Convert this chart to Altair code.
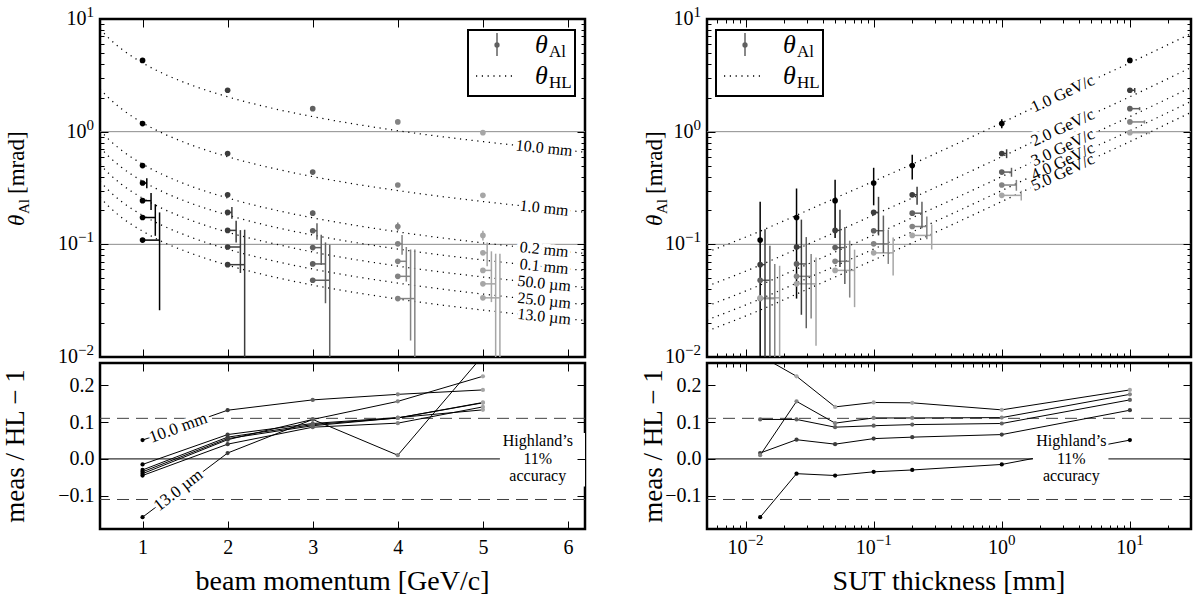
import altair as alt
import pandas as pd

FONT = "Liberation Serif, DejaVu Serif"

# ---------------------------------------------------------------- data
momenta = [1, 2, 3, 4, 5]  # GeV/c
momentum_labels = ["1.0 GeV/c", "2.0 GeV/c", "3.0 GeV/c", "4.0 GeV/c", "5.0 GeV/c"]
momentum_colors = ["#000000", "#3c3c3c", "#606060", "#838383", "#a6a6a6"]

thickness = [10.0, 1.0, 0.2, 0.1, 0.05, 0.025, 0.013]  # mm
thickness_labels = ["10.0 mm", "1.0 mm", "0.2 mm", "0.1 mm", "50.0 µm", "25.0 µm", "13.0 µm"]

# measured scattering angle [mrad]; rows: thickness, columns: momentum
theta_al = [
    [4.29, 2.33, 1.60, 1.22, 0.98],
    [1.18, 0.64, 0.438, 0.336, 0.272],
    [0.50, 0.275, 0.189, 0.144, 0.120],
    [0.35, 0.192, 0.132, 0.101, 0.084],
    [0.244, 0.133, 0.0935, 0.0707, 0.0587],
    [0.173, 0.0947, 0.067, 0.052, 0.0446],
    [0.109, 0.066, 0.048, 0.0330, 0.0335],
]
# uncertainties shown in the momentum scan
err_by_momentum = [
    [0, 0, 0, 0, 0],
    [0, 0, 0, 0, 0],
    [0.010, 0.012, 0.010, 0.012, 0.012],
    [0.035, 0.023, 0.022, 0.020, 0.020],
    [0.042, 0.029, 0.028, 0.024, 0.028],
    [0.054, 0.039, 0.037, 0.038, 0.038],
    [0.083, 0.069, 0.051, 0.057, 0.049],
]
# uncertainties shown in the thickness scan
err_by_thickness = [
    [0.10, 0.11, 0.05, 0.04, 0.03],
    [0.11, 0.058, 0.040, 0.037, 0.027],
    [0.124, 0.050, 0.050, 0.033, 0.030],
    [0.128, 0.072, 0.048, 0.034, 0.031],
    [0.130, 0.070, 0.049, 0.037, 0.031],
    [0.140, 0.071, 0.049, 0.030, 0.032],
    [0.130, 0.070, 0.049, 0.034, 0.031],
]
# meas / HL - 1
ratio_hl = [
    [0.051, 0.132, 0.160, 0.175, 0.187],
    [-0.015, 0.066, 0.096, 0.112, 0.133],
    [-0.030, 0.059, 0.093, 0.111, 0.152],
    [-0.035, 0.055, 0.090, 0.111, 0.153],
    [-0.045, 0.040, 0.086, 0.097, 0.141],
    [-0.040, 0.052, 0.107, 0.156, 0.224],
    [-0.158, 0.016, 0.107, 0.010, 0.280],
]

# Highland prediction vs momentum, one row per thickness
hl_p_grid = [0.5, 0.6, 0.75, 1.0, 1.25, 1.5, 2.0, 2.5, 3.0, 4.0, 5.0, 6.2]
hl_vs_momentum = [
    [8.16, 6.80, 5.44, 4.08, 3.26, 2.72, 2.04, 1.63, 1.36, 1.02, 0.816, 0.658],
    [2.40, 2.00, 1.60, 1.198, 0.958, 0.799, 0.599, 0.479, 0.399, 0.300, 0.240, 0.193],
    [1.03, 0.858, 0.687, 0.515, 0.412, 0.343, 0.258, 0.206, 0.172, 0.129, 0.103, 0.0831],
    [0.726, 0.605, 0.484, 0.363, 0.290, 0.242, 0.182, 0.145, 0.121, 0.0908, 0.0726, 0.0585],
    [0.513, 0.428, 0.342, 0.257, 0.205, 0.171, 0.128, 0.103, 0.0855, 0.0641, 0.0513, 0.0414],
    [0.362, 0.302, 0.241, 0.181, 0.145, 0.121, 0.0905, 0.0724, 0.0603, 0.0453, 0.0362, 0.0292],
    [0.261, 0.218, 0.174, 0.131, 0.104, 0.0871, 0.0653, 0.0522, 0.0435, 0.0327, 0.0261, 0.0211],
]
# Highland prediction vs thickness, one row per momentum
hl_t_grid = [0.005, 0.013, 0.025, 0.05, 0.1, 0.2, 1.0, 3.0, 10.0, 30.0]
hl_vs_thickness = [
    [0.085, 0.131, 0.181, 0.257, 0.363, 0.515, 1.198, 2.17, 4.08, 7.42],
    [0.0425, 0.0653, 0.0905, 0.128, 0.182, 0.258, 0.599, 1.085, 2.04, 3.71],
    [0.0283, 0.0435, 0.0603, 0.0855, 0.121, 0.172, 0.399, 0.723, 1.36, 2.47],
    [0.0213, 0.0327, 0.0453, 0.0641, 0.0908, 0.129, 0.300, 0.543, 1.02, 1.855],
    [0.017, 0.0261, 0.0362, 0.0513, 0.0726, 0.103, 0.240, 0.434, 0.816, 1.484],
]
# where the curve names sit
curve_label_p = 5.72
curve_label_theta = [0.713, 0.2094, 0.090, 0.0635, 0.0448, 0.0316, 0.0228]
curve_label_t = 3.0
curve_label_theta_t = [2.17, 1.085, 0.723, 0.543, 0.434]

hl_accuracy = 0.11
hl_note = ["Highland\u2019s", "11%", "accuracy"]

# log-axis tick labels: 10 raised to these powers
decade_values = [0.01, 0.1, 1, 10]
decade_powers = ["\u22122", "\u22121", "0", "1"]

# ---------------------------------------------------------------- layout
W_L, W_R, H_T, H_B = 485, 484, 338, 166
shift_p = [0.0, 0.0, 0.0, 0.05, 0.10, 0.15, 0.20]   # error bar displacement (GeV/c)
shift_t = [1.0, 1.091, 1.191, 1.30, 1.419]          # error bar displacement (factor)
DOTS = [1.2, 4.6]
SUP = 15  # superscript font size

x_mom = alt.Scale(domain=[0.5, 6.2], nice=False, zero=False)
x_thk = alt.Scale(type="log", domain=[0.005, 30], nice=False)
y_theta = alt.Scale(type="log", domain=[0.01, 10], nice=False)
y_ratio = alt.Scale(domain=[-0.19, 0.26], nice=False, zero=False)
color_p = alt.Color("p:O", scale=alt.Scale(domain=momenta, range=momentum_colors), legend=None)

theta_minor = [round(k * 10.0 ** e, 6) for e in (-2, -1, 0) for k in range(2, 10)]
thk_minor = [v for v in (round(k * 10.0 ** e, 6) for e in (-3, -2, -1, 0, 1) for k in range(2, 10))
             if 0.005 < v < 30]
ratio_ticks = [-0.1, 0.0, 0.1, 0.2]
mom_ticks = [1, 2, 3, 4, 5, 6]

rows = []
for i, t in enumerate(thickness):
    for j, p in enumerate(momenta):
        th = theta_al[i][j]
        eL = err_by_momentum[i][j]
        eR = err_by_thickness[i][j]
        rows.append(dict(t=t, p=p, theta=th, r=ratio_hl[i][j], series=thickness_labels[i],
                         pL=p + shift_p[i], loL=max(th - eL, 1e-4), hiL=th + eL, eL=eL,
                         tR=t * shift_t[j], loR=max(th - eR, 1e-4), hiR=th + eR))
pts = pd.DataFrame(rows)
pts_errL = pts[pts.eL > 0]

hl_left = pd.DataFrame([dict(p=p, hl=v, series=thickness_labels[i])
                        for i, row in enumerate(hl_vs_momentum) for p, v in zip(hl_p_grid, row)])
hl_right = pd.DataFrame([dict(t=t, hl=v, mom=momentum_labels[j])
                         for j, row in enumerate(hl_vs_thickness) for t, v in zip(hl_t_grid, row)])
lbl_left = pd.DataFrame(dict(p=[curve_label_p] * 7, theta=curve_label_theta, txt=thickness_labels))
lbl_right = pd.DataFrame(dict(t=[curve_label_t] * 5, theta=curve_label_theta_t, txt=momentum_labels))

one = pd.DataFrame({"k": [0]})


def X(f, scale):
    return alt.X(f, type="quantitative", scale=scale, axis=None)


def Y(f, scale):
    return alt.Y(f, type="quantitative", scale=scale, axis=None)


class Frame:
    """Scales and size of one panel."""

    def __init__(self, xs, ys, x_mid, y_mid, w, h):
        self.xs, self.ys, self.x_mid, self.y_mid, self.w, self.h = xs, ys, x_mid, y_mid, w, h


def axis_layer(fr, channel, values, orient, offset=0, tick=0, labels=False, fmt=None, pad=6):
    kw = dict(orient=orient, values=values, domain=False, grid=False, title=None,
              ticks=tick > 0, tickSize=tick, tickColor="black", tickWidth=1,
              labels=labels, offset=offset, labelFlush=False, labelOverlap=False, zindex=1)
    if labels:
        kw.update(labelFont=FONT, labelFontSize=20, labelColor="black", labelPadding=pad)
    if fmt:
        kw["format"] = fmt
    df = pd.DataFrame({"v": values, "xm": fr.x_mid, "ym": fr.y_mid})
    if channel == "x":
        enc = dict(x=alt.X("v:Q", scale=fr.xs, axis=alt.Axis(**kw)), y=Y("ym", fr.ys))
    else:
        enc = dict(y=alt.Y("v:Q", scale=fr.ys, axis=alt.Axis(**kw)), x=X("xm", fr.xs))
    return alt.Chart(df).mark_point(opacity=0).encode(**enc)


def edge_ticks(fr, channel, values, size):
    # inward ticks on both edges of the frame
    if channel == "x":
        return [axis_layer(fr, "x", values, "top", -fr.h, size),
                axis_layer(fr, "x", values, "bottom", -fr.h, size)]
    return [axis_layer(fr, "y", values, "right", -fr.w, size),
            axis_layer(fr, "y", values, "left", -fr.w, size)]


def power_width(s):
    # advance width of a superscript string
    return sum(0.564 if ch == "\u2212" else 0.5 for ch in s) * SUP


def decade_labels_y(fr):
    out = []
    for v, e in zip(decade_values, decade_powers):
        d = pd.DataFrame({"v": [v]})
        out.append(alt.Chart(d).mark_text(font=FONT, fontSize=20, align="right",
                                          baseline="middle", color="black").encode(
            x=alt.value(-6 - power_width(e)), y=Y("v", fr.ys), text=alt.value("10")))
        out.append(alt.Chart(d).mark_text(font=FONT, fontSize=SUP, align="right",
                                          baseline="middle", dy=-7, color="black").encode(
            x=alt.value(-6), y=Y("v", fr.ys), text=alt.value(e)))
    return out


def decade_labels_x(fr, top):
    out = []
    for v, e in zip(decade_values, decade_powers):
        w = power_width(e)
        d = pd.DataFrame({"v": [v]})
        out.append(alt.Chart(d).mark_text(font=FONT, fontSize=20, align="center",
                                          baseline="top", dx=-w / 2, color="black").encode(
            x=X("v", fr.xs), y=alt.value(top), text=alt.value("10")))
        out.append(alt.Chart(d).mark_text(font=FONT, fontSize=SUP, align="left",
                                          baseline="top", dx=10 - w / 2, dy=-5,
                                          color="black").encode(
            x=X("v", fr.xs), y=alt.value(top), text=alt.value(e)))
    return out


def text(x, y, s, size, angle=None, align="center", baseline="middle", style="normal"):
    kw = dict(font=FONT, fontSize=size, align=align, baseline=baseline, color="black",
              fontStyle=style)
    if angle is not None:
        kw["angle"] = angle
    return alt.Chart(one).mark_text(**kw).encode(x=alt.value(x), y=alt.value(y), text=alt.value(s))


def halo_text(df, x, y, size, angle):
    base = dict(font=FONT, fontSize=size, align="center", baseline="middle", angle=angle)
    enc = dict(x=x, y=y, text="txt:N")
    back = alt.Chart(df).mark_text(color="white", stroke="white", strokeWidth=7,
                                   strokeJoin="round", **base).encode(**enc)
    front = alt.Chart(df).mark_text(color="black", **base).encode(**enc)
    return [back, front]


def legend(x0, y0):
    box = alt.Chart(one).mark_rect(fill="white", stroke="black", strokeWidth=2).encode(
        x=alt.value(x0), x2=alt.value(x0 + 107), y=alt.value(y0), y2=alt.value(y0 + 66))
    bar = alt.Chart(one).mark_rule(color="#606060", strokeWidth=1.5).encode(
        x=alt.value(x0 + 29), y=alt.value(y0 + 3), y2=alt.value(y0 + 26))
    dot = alt.Chart(one).mark_circle(color="#606060", size=28, opacity=1).encode(
        x=alt.value(x0 + 29), y=alt.value(y0 + 15))
    dotted = alt.Chart(one).mark_rule(color="black", strokeDash=DOTS, strokeWidth=1.3).encode(
        x=alt.value(x0 + 8), x2=alt.value(x0 + 45), y=alt.value(y0 + 46))
    return [box, bar, dot, dotted,
            text(x0 + 67, y0 + 15, "\u03b8", 26, align="left", style="italic"),
            text(x0 + 81, y0 + 22, "Al", 17, align="left"),
            text(x0 + 67, y0 + 46, "\u03b8", 26, align="left", style="italic"),
            text(x0 + 81, y0 + 53, "HL", 17, align="left")]


def theta_title(xb, yc):
    # rotated "theta_Al [mrad]" built from pieces, read bottom to top
    y0 = yc + 46
    return [text(xb, y0, "\u03b8", 23, angle=270, align="left", baseline="alphabetic", style="italic"),
            text(xb + 5, y0 - 12, "Al", 15, angle=270, align="left", baseline="alphabetic"),
            text(xb, y0 - 32, "[mrad]", 23, angle=270, align="left", baseline="alphabetic")]


def panel(layers, fr):
    return alt.layer(*layers).resolve_axis(x="independent", y="independent").properties(
        width=fr.w, height=fr.h)


def theta_grid():
    return alt.Chart(pd.DataFrame({"g": [1.0, 0.1]})).mark_rule(
        color="#8c8c8c", strokeWidth=1).encode(y=Y("g", y_theta))


f_tl = Frame(x_mom, y_theta, 3.0, 1.0, W_L, H_T)
f_tr = Frame(x_thk, y_theta, 1.0, 1.0, W_R, H_T)
f_bl = Frame(x_mom, y_ratio, 3.0, 0.0, W_L, H_B)
f_br = Frame(x_thk, y_ratio, 1.0, 0.0, W_R, H_B)

# ---------------------------------------------------------------- top left
tl = panel([
    theta_grid(),
    alt.Chart(hl_left).mark_line(color="black", strokeDash=DOTS, strokeWidth=1.25,
                                 interpolate="monotone", clip=True).encode(
        x=X("p", x_mom), y=Y("hl", y_theta), detail="series:N"),
    *halo_text(lbl_left, X("p", x_mom), Y("theta", y_theta), 16, 6),
    alt.Chart(pts_errL).mark_rule(strokeWidth=1.5, clip=True).encode(
        x=X("p", x_mom), x2=alt.X2("pL"), y=Y("theta", y_theta), color=color_p),
    alt.Chart(pts_errL).mark_rule(strokeWidth=1.5, clip=True).encode(
        x=X("pL", x_mom), y=Y("loL", y_theta), y2=alt.Y2("hiL"), color=color_p),
    alt.Chart(pts).mark_circle(size=32, opacity=1, clip=True).encode(
        x=X("p", x_mom), y=Y("theta", y_theta), color=color_p),
    *legend(368, 11),
    *edge_ticks(f_tl, "x", mom_ticks, 8),
    *edge_ticks(f_tl, "y", decade_values, 8),
    *edge_ticks(f_tl, "y", theta_minor, 4),
    *decade_labels_y(f_tl),
    *theta_title(-76, 161),
    alt.Chart(one).mark_rule(opacity=0).encode(
        x=alt.value(-96), x2=alt.value(-96), y=alt.value(-17), y2=alt.value(-16)),
], f_tl)

# ---------------------------------------------------------------- top right
tr = panel([
    theta_grid(),
    alt.Chart(hl_right).mark_line(color="black", strokeDash=DOTS, strokeWidth=1.25,
                                  interpolate="monotone", clip=True).encode(
        x=X("t", x_thk), y=Y("hl", y_theta), detail="mom:N"),
    *halo_text(lbl_right, X("t", x_thk), Y("theta", y_theta), 16.5, 335),
    alt.Chart(pts).mark_rule(strokeWidth=1.5, clip=True).encode(
        x=X("t", x_thk), x2=alt.X2("tR"), y=Y("theta", y_theta), color=color_p),
    alt.Chart(pts).mark_rule(strokeWidth=1.5, clip=True).encode(
        x=X("tR", x_thk), y=Y("loR", y_theta), y2=alt.Y2("hiR"), color=color_p),
    alt.Chart(pts).mark_circle(size=32, opacity=1, clip=True).encode(
        x=X("t", x_thk), y=Y("theta", y_theta), color=color_p),
    *legend(9, 11),
    *edge_ticks(f_tr, "x", decade_values, 8),
    *edge_ticks(f_tr, "x", thk_minor, 4),
    *edge_ticks(f_tr, "y", decade_values, 8),
    *edge_ticks(f_tr, "y", theta_minor, 4),
    *decade_labels_y(f_tr),
    *theta_title(-45, 161),
], f_tr)


# ---------------------------------------------------------------- ratio panels
def ratio_refs():
    return [
        alt.Chart(pd.DataFrame({"y": [0.0]})).mark_rule(color="black", strokeWidth=1).encode(
            y=Y("y", y_ratio)),
        alt.Chart(pd.DataFrame({"y": [hl_accuracy, -hl_accuracy]})).mark_rule(
            color="#404040", strokeWidth=1, strokeDash=[12, 7]).encode(y=Y("y", y_ratio)),
    ]


def note(xscale, x1, x2, xc):
    box = pd.DataFrame(dict(x1=[x1], x2=[x2], y1=[-0.075], y2=[0.07]))
    pos = pd.DataFrame(dict(x=[xc], y=[0.0]))
    return [
        alt.Chart(box).mark_rect(fill="white", clip=True).encode(
            x=X("x1", xscale), x2=alt.X2("x2"), y=Y("y1", y_ratio), y2=alt.Y2("y2")),
        alt.Chart(pos).mark_text(font=FONT, fontSize=16, lineHeight=17.5, align="center",
                                 baseline="middle", dy=-17.5, color="black").encode(
            x=X("x", xscale), y=Y("y", y_ratio), text=alt.value(hl_note)),
    ]


bl_tags = [
    pd.DataFrame(dict(p=[1.42], r=[0.084], txt=[thickness_labels[0]])),
    pd.DataFrame(dict(p=[1.42], r=[-0.085], txt=[thickness_labels[6]])),
]

bl = panel([
    *ratio_refs(),
    alt.Chart(pts).mark_line(color="black", strokeWidth=1, clip=True).encode(
        x=X("p", x_mom), y=Y("r", y_ratio), detail="series:N"),
    alt.Chart(pts).mark_circle(size=18, opacity=1, clip=True).encode(
        x=X("p", x_mom), y=Y("r", y_ratio), color=color_p),
    *halo_text(bl_tags[0], X("p", x_mom), Y("r", y_ratio), 17, 340),
    *halo_text(bl_tags[1], X("p", x_mom), Y("r", y_ratio), 17, 322),
    *note(x_mom, 5.2, 6.3, 5.645),
    *edge_ticks(f_bl, "x", mom_ticks, 8),
    *edge_ticks(f_bl, "y", ratio_ticks, 8),
    axis_layer(f_bl, "x", mom_ticks, "bottom", 0, 0, labels=True, pad=8),
    axis_layer(f_bl, "y", ratio_ticks, "left", 0, 0, labels=True, fmt=".1f", pad=6),
    text(W_L / 2, H_B + 61, "beam momentum [GeV/c]", 28, baseline="alphabetic"),
    text(-76, H_B / 2, "meas / HL \u2212 1", 27, angle=270, baseline="alphabetic"),
], f_bl)

br = panel([
    *ratio_refs(),
    alt.Chart(pts).mark_line(color="black", strokeWidth=1, clip=True).encode(
        x=X("t", x_thk), y=Y("r", y_ratio), detail="p:N"),
    alt.Chart(pts).mark_circle(size=18, opacity=1, clip=True).encode(
        x=X("t", x_thk), y=Y("r", y_ratio), color=color_p),
    *note(x_thk, 1.75, 6.8, 3.49),
    *edge_ticks(f_br, "x", decade_values, 8),
    *edge_ticks(f_br, "x", thk_minor, 4),
    *edge_ticks(f_br, "y", ratio_ticks, 8),
    *decade_labels_x(f_br, H_B + 9),
    axis_layer(f_br, "y", ratio_ticks, "left", 0, 0, labels=True, fmt=".1f", pad=6),
    text(W_R / 2, H_B + 61, "SUT thickness [mm]", 28, baseline="alphabetic"),
    text(-45, H_B / 2, "meas / HL \u2212 1", 27, angle=270, baseline="alphabetic"),
], f_br)

chart = alt.concat(
    tl, tr, bl, br, columns=2, spacing={"row": 6, "column": 122}, bounds="flush", align="each"
).properties(padding=0).configure_view(stroke="black", strokeWidth=2.5)

chart.save("out.html", embed_options={"renderer": "svg", "actions": False})
